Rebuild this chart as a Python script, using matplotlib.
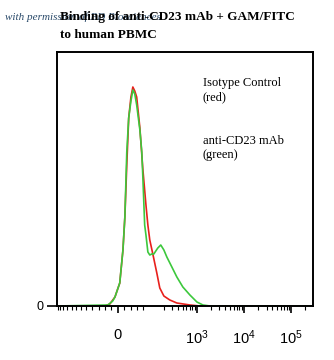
import matplotlib
matplotlib.use("Agg")
import matplotlib.pyplot as plt
from matplotlib.ticker import FixedLocator, NullFormatter
import numpy as np

# fluorescence (FITC) values and event counts
red_x = [-410, -41, -25, -9, 6, 16, 22, 28, 34, 41, 47, 53, 59, 69, 78, 88, 94, 100,
         116, 141, 163, 199, 266, 375, 710, 1160, 290000]
red_y = [0, 0, 2, 9, 23, 56, 89, 141, 188, 209, 219, 215, 209, 178, 138, 101, 81, 66,
         52, 33, 18, 10, 6, 3, 1, 0, 0]

green_x = [-410, -31, -16, -9, 6, 16, 22, 28, 34, 41, 47, 53, 59, 69, 75, 78, 84, 88,
           94, 100, 110, 122, 134, 148, 171, 199, 230, 294, 375, 503, 710, 1000, 1340,
           1890, 290000]
green_y = [0, 1, 5, 9, 23, 56, 89, 154, 188, 205, 216, 212, 201, 176, 154, 131, 81, 71,
           54, 51, 52, 52, 55, 58, 61, 56, 49, 39, 29, 19, 11, 4, 1, 0, 0]

tick_vals = [0, 1e3, 1e4, 1e5]
tick_labels = ["0", "$10^3$", "$10^4$", "$10^5$"]

plt.rcParams["mathtext.default"] = "regular"

fig = plt.figure(figsize=(3.34, 3.6), dpi=100)
ax = fig.add_axes([57 / 334, 54 / 360, 256 / 334, 254 / 360])

ax.plot(red_x, red_y, color="#e8201c", lw=1.2)
ax.plot(green_x, green_y, color="#3cc83c", lw=1.2)

ax.set_xscale("symlog", linthresh=100, linscale=0.61)
ax.set_xlim(-410, 290000)
ax.set_ylim(0, 254)

# minor ticks: linear steps near zero, 2..9 subdivisions per decade elsewhere
minor = [-400, -350, -300, -250, -200, -160, -130, -100, -80, -60, -40, -20,
         20, 40, 60, 80]
for dec in [100, 1000, 10000, 100000]:
    minor += [k * dec for k in range(2, 10) if k * dec < 290000]
ax.xaxis.set_major_locator(FixedLocator(tick_vals))
ax.set_xticklabels(tick_labels, fontfamily="Liberation Sans", fontsize=10.5)
ax.xaxis.set_minor_locator(FixedLocator(minor))
ax.xaxis.set_minor_formatter(NullFormatter())
ax.tick_params(axis="x", which="major", direction="out", length=5, width=1.2, pad=11)
ax.tick_params(axis="x", which="minor", direction="out", length=3, width=0.8)

ax.set_yticks([0])
ax.set_yticklabels(["0"], fontfamily="Liberation Sans", fontsize=9)
ax.tick_params(axis="y", direction="out", length=7, width=1.2, pad=3)

for s in ax.spines.values():
    s.set_linewidth(1.4)

txt = dict(fontfamily="Liberation Serif", fontsize=9, va="top", ha="left")
ax.text(0.57, 0.9, "Isotype Control\n(red)", transform=ax.transAxes, linespacing=1.25, **txt)
ax.text(0.57, 0.675, "anti-CD23 mAb\n(green)", transform=ax.transAxes, linespacing=1.25, **txt)

fig.text(5 / 334, 1 - 17 / 360, "with permission of BD Biosciences", fontfamily="Liberation Serif",
         style="italic", fontsize=8, color="#2a4a6a", va="center", ha="left")
fig.text(60 / 334, 1 - 17 / 360, "Binding of anti-CD23 mAb + GAM/FITC", fontfamily="Liberation Serif",
         fontweight="bold", fontsize=9.5, va="center", ha="left")
fig.text(60 / 334, 1 - 35 / 360, "to human PBMC", fontfamily="Liberation Serif",
         fontweight="bold", fontsize=9.5, va="center", ha="left")

fig.savefig("out.png", dpi=100)
